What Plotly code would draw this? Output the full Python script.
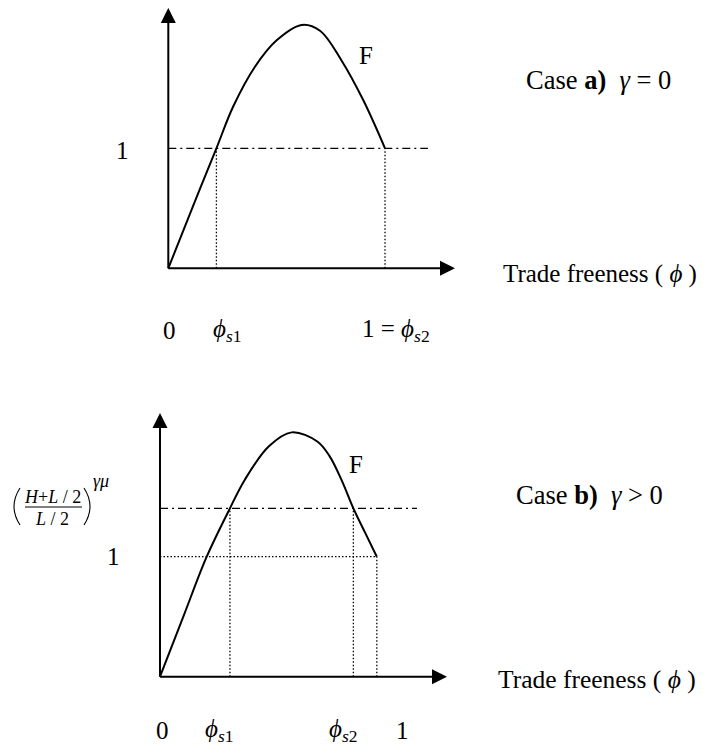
import plotly.graph_objects as go

# the page body keeps an 8px margin, so the figure is drawn 8px in from the window edge
WIN_W, WIN_H = 709, 755
OFF = 8
W, H = WIN_W - 2 * OFF, WIN_H - 2 * OFF

# ---- data ----
# case a) gamma = 0
phi_a = [0, 0.11, 0.222, 0.30, 0.40, 0.50, 0.616, 0.70, 0.80, 0.90, 1.0]
F_a = [0, 0.50, 1.0, 1.35, 1.68, 1.90, 2.028, 1.98, 1.73, 1.40, 1.0]
level_a = 1.0
phi_s_a = [0.222, 1.0]

# case b) gamma > 0
phi_b = [0, 0.10, 0.193, 0.289, 0.35, 0.45, 0.544, 0.65, 0.70, 0.75, 0.799, 0.85, 0.896]
F_b = [0, 0.52, 1.0, 1.403, 1.64, 1.92, 2.036, 1.96, 1.84, 1.64, 1.403, 1.19, 1.0]
level_b = 1.403
phi_s_b = [0.289, 0.799]
phi_end_b = 0.896

ticks_a = [0, phi_s_a[0], phi_s_a[1]]
ticklabels_a = ["0", "<i>ϕ</i><sub><i>s</i>1</sub>", "1 = <i>ϕ</i><sub><i>s</i>2</sub>"]
ticks_b = [0, phi_s_b[0], phi_s_b[1], 1.0]
ticklabels_b = ["0", "<i>ϕ</i><sub><i>s</i>1</sub>", "<i>ϕ</i><sub><i>s</i>2</sub>", "1"]

# ---- layout: window-pixel anchors of each panel (origin px, px per unit) ----
TOP = dict(x0=168.3, ux=216.7, y0=268.3, uy=120.0, top=OFF, bottom=377.5)
BOT = dict(x0=160.0, ux=242.0, y0=676.7, uy=120.0, top=377.5, bottom=OFF + H)
TOP_END = (1.323, 2.17)   # arrow tips, data units
BOT_END = (1.186, 2.198)

FONT = "Times New Roman, Liberation Serif, serif"
FS = 25


def axis_setup(p):
    x0 = p["x0"] - OFF
    y0 = p["y0"] - OFF
    xr = [-x0 / p["ux"], (W - x0) / p["ux"]]
    yr = [(y0 - (p["bottom"] - OFF)) / p["uy"], (y0 - (p["top"] - OFF)) / p["uy"]]
    dom = [1 - (p["bottom"] - OFF) / H, 1 - (p["top"] - OFF) / H]
    return xr, yr, dom


def px(x):
    return (x - OFF) / W


def py(y):
    return 1 - (y - OFF) / H


shapes = []


def line(x0, y0, x1, y1, xr, yr, dash="solid", width=2):
    shapes.append(dict(type="line", xref=xr, yref=yr, x0=x0, y0=y0, x1=x1, y1=y1,
                       line=dict(color="black", width=width, dash=dash)))


def arrows(p, end, xr, yr):
    ex, ey = end
    hw, hl = 7.5, 15
    by = ey - hl / p["uy"]
    bx = ex - hl / p["ux"]
    line(0, 0, 0, by + 1 / p["uy"], xr, yr)
    line(0, 0, bx + 1 / p["ux"], 0, xr, yr)
    shapes.append(dict(type="path", xref=xr, yref=yr, fillcolor="black", line=dict(width=0),
                       path=f"M{-hw / p['ux']},{by} L{hw / p['ux']},{by} L0,{ey} Z"))
    shapes.append(dict(type="path", xref=xr, yref=yr, fillcolor="black", line=dict(width=0),
                       path=f"M{bx},{-hw / p['uy']} L{bx},{hw / p['uy']} L{ex},0 Z"))


def paren(x_end, x_mid, y0, y1):
    # thin bracket drawn as a curve, in window pixels
    ym = (y0 + y1) / 2
    shapes.append(dict(type="path", xref="paper", yref="paper",
                       path=f"M{px(x_end)},{py(y0)} Q{px(x_mid)},{py(ym)} {px(x_end)},{py(y1)}",
                       line=dict(color="black", width=1.1)))


DASHDOT = "8px,4px,2px,4px"
DOT = "1.5px,2px"

fig = go.Figure()
fig.add_trace(go.Scatter(x=phi_a, y=F_a, mode="lines", xaxis="x", yaxis="y",
                         line=dict(color="black", width=2, shape="spline", smoothing=1)))
fig.add_trace(go.Scatter(x=phi_b, y=F_b, mode="lines", xaxis="x2", yaxis="y2",
                         line=dict(color="black", width=2, shape="spline", smoothing=1)))

# top panel
arrows(TOP, TOP_END, "x", "y")
line(0, level_a, 1.198, level_a, "x", "y", DASHDOT, 1.3)
for s in phi_s_a:
    line(s, 0, s, level_a, "x", "y", DOT, 1.3)

# bottom panel
arrows(BOT, BOT_END, "x2", "y2")
line(0, level_b, 1.062, level_b, "x2", "y2", DASHDOT, 1.3)
line(0, 1, phi_end_b, 1, "x2", "y2", DOT, 1.3)
for s in phi_s_b:
    line(s, 0, s, level_b, "x2", "y2", DOT, 1.3)
line(phi_end_b, 0, phi_end_b, 1, "x2", "y2", DOT, 1.3)

# (H+L/2 / L/2)^γμ : fraction bar and brackets
shapes.append(dict(type="line", xref="paper", yref="paper", x0=px(25), x1=px(82), y0=py(507), y1=py(507),
                   line=dict(color="black", width=1)))
paren(20, 8, 488, 525)
paren(84, 96, 488, 525)

annotations = []


def text(t, x, y, size=FS, xref="paper", xshift=0, anchor="center"):
    annotations.append(dict(text=t, x=x if xref != "paper" else px(x), y=py(y), xref=xref, yref="paper",
                            showarrow=False, xanchor=anchor, yanchor="middle", xshift=xshift,
                            font=dict(family=FONT, size=size, color="black")))


# top labels
text("1", 122, 150)
text("F", 366, 55)
text("Case <b>a)</b>\u00a0 <i>γ</i> = 0", 598, 80, size=26.5)
text("Trade freeness ( <i>ϕ</i> )", 699, 274, size=25, anchor="right")
for v, lab, sh in zip(ticks_a, ticklabels_a, [1, 11, 11]):
    text(lab, v, 330, xref="x", xshift=sh)

# bottom labels
text("1", 113, 556)
text("F", 356, 465)
text("Case <b>b)</b>\u00a0 <i>γ</i> > 0", 589, 495, size=26.5)
text("Trade freeness ( <i>ϕ</i> )", 698, 679, size=25.5, anchor="right")
for v, lab, sh in zip(ticks_b, ticklabels_b, [2, -10, -10, 0]):
    text(lab, v, 730, xref="x2", xshift=sh)

text("<i>H</i>+<i>L</i> / 2", 53, 497, size=18)
text("<i>L</i> / 2", 52, 519, size=18)
text("<i>γμ</i>", 101, 481, size=18)

xr_t, yr_t, dom_t = axis_setup(TOP)
xr_b, yr_b, dom_b = axis_setup(BOT)

fig.update_layout(
    width=W, height=H,
    margin=dict(l=0, r=0, t=0, b=0),
    showlegend=False,
    plot_bgcolor="white", paper_bgcolor="white",
    xaxis=dict(domain=[0, 1], range=xr_t, visible=False, anchor="y"),
    yaxis=dict(domain=dom_t, range=yr_t, visible=False, anchor="x"),
    xaxis2=dict(domain=[0, 1], range=xr_b, visible=False, anchor="y2"),
    yaxis2=dict(domain=dom_b, range=yr_b, visible=False, anchor="x2"),
    shapes=shapes,
    annotations=annotations,
)

fig.write_html("out.html")
